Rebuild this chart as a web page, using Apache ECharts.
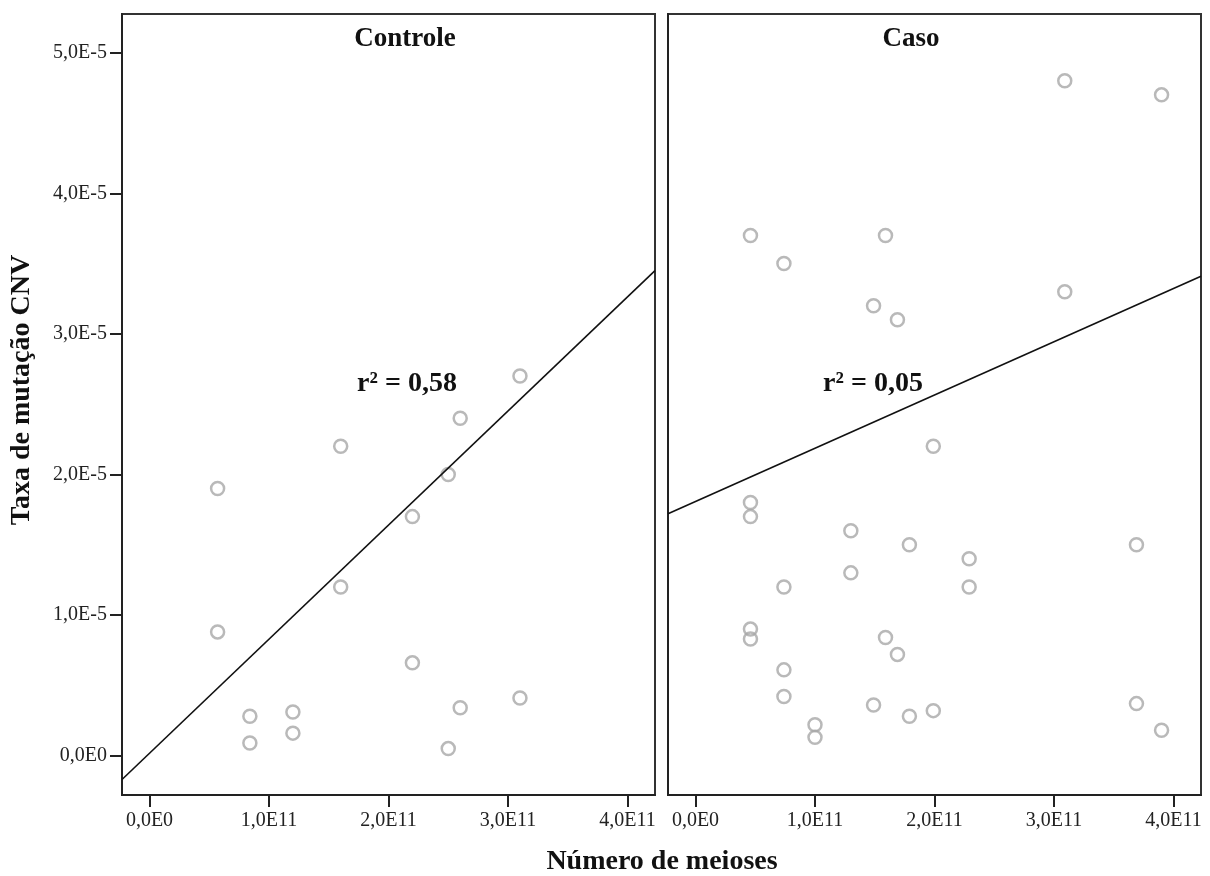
<!DOCTYPE html>
<html>
<head>
<meta charset="utf-8">
<script src="https://cdn.jsdelivr.net/npm/echarts@6/dist/echarts.min.js"></script>
<style>
  html, body { margin: 0; padding: 0; background: #fff; }
  #chart { width: 1210px; height: 876px; }
</style>
</head>
<body>
<div id="chart"></div>
<script>
// x in units of 1E11 meioses, y in units of 1E-5
const controleX = [0.57, 0.57, 0.84, 0.84, 1.2, 1.2, 1.6, 1.6, 2.2, 2.2, 2.5, 2.5, 2.6, 2.6, 3.1, 3.1];
const controleY = [1.9, 0.88, 0.28, 0.09, 0.31, 0.16, 1.2, 2.2, 1.7, 0.66, 2.0, 0.05, 2.4, 0.34, 2.7, 0.41];

const casoX = [0.46, 0.74, 1.59, 1.49, 1.69, 3.09, 3.9, 3.09, 1.99, 0.46, 0.46, 1.3, 1.79, 2.29, 2.29, 0.74,
    1.3, 3.69, 0.46, 0.46, 1.59, 1.69, 0.74, 0.74, 1.49, 1.79, 1.99, 1.0, 1.0, 3.69, 3.9];
const casoY = [3.7, 3.5, 3.7, 3.2, 3.1, 4.8, 4.7, 3.3, 2.2, 1.8, 1.7, 1.6, 1.5, 1.4, 1.2, 1.2,
    1.3, 1.5, 0.9, 0.83, 0.84, 0.72, 0.61, 0.42, 0.36, 0.28, 0.32, 0.22, 0.13, 0.37, 0.18];

// fit lines, endpoints read at the panel edges
const controleFit = [[-0.23, -0.17], [4.23, 3.45]];
const casoFit = [[-0.23, 1.72], [4.23, 3.41]];

const xTicks = [0, 1, 2, 3, 4];
const yTicks = [0, 1, 2, 3, 4, 5];
const panelTitles = ['Controle', 'Caso'];
const r2Labels = ['r\u00b2 = 0,58', 'r\u00b2 = 0,05'];

const serif = '"Liberation Serif", "Times New Roman", serif';

const fmtX = (v) => v === 0 ? '0,0E0' : v.toFixed(1).replace('.', ',') + 'E11';
const fmtY = (v) => v === 0 ? '0,0E0' : v.toFixed(1).replace('.', ',') + 'E-5';

const zip = (xs, ys) => xs.map((x, i) => [x, ys[i]]);

const chart = echarts.init(document.getElementById('chart'));

const axisLine = { show: true, onZero: false, lineStyle: { color: '#222', width: 2 } };

const makeX = (idx) => ({
    type: 'value',
    gridIndex: idx,
    min: -0.23,
    max: 4.23,
    axisLine: axisLine,
    axisTick: { show: true, customValues: xTicks, length: 12, lineStyle: { color: '#222', width: 2 } },
    axisLabel: {
        customValues: xTicks,
        formatter: fmtX,
        margin: 16,
        color: '#222',
        fontFamily: serif,
        fontSize: 20
    },
    splitLine: { show: false }
});

const makeY = (idx, showLabels) => ({
    type: 'value',
    gridIndex: idx,
    min: -0.28,
    max: 5.275,
    axisLine: axisLine,
    axisTick: { show: showLabels, customValues: yTicks, length: 12, lineStyle: { color: '#222', width: 2 } },
    axisLabel: {
        show: showLabels,
        customValues: yTicks,
        formatter: fmtY,
        margin: 15,
        color: '#222',
        fontFamily: serif,
        fontSize: 20
    },
    splitLine: { show: false }
});

const scatterStyle = {
    color: 'rgba(255,255,255,0)',
    borderColor: '#a8a8a8',
    borderWidth: 2.5
};

const option = {
    backgroundColor: '#fff',
    animation: false,
    grid: [
        { left: 122, top: 14, width: 533, height: 781, show: true, borderColor: '#333', borderWidth: 2 },
        { left: 668, top: 14, width: 533, height: 781, show: true, borderColor: '#333', borderWidth: 2 }
    ],
    xAxis: [makeX(0), makeX(1)],
    yAxis: [makeY(0, true), makeY(1, false)],
    series: [
        {
            type: 'scatter', xAxisIndex: 0, yAxisIndex: 0,
            data: zip(controleX, controleY),
            symbol: 'circle', symbolSize: 13,
            itemStyle: scatterStyle
        },
        {
            type: 'line', xAxisIndex: 0, yAxisIndex: 0,
            data: controleFit, showSymbol: false, clip: true,
            lineStyle: { color: '#111', width: 1.6 }
        },
        {
            type: 'scatter', xAxisIndex: 1, yAxisIndex: 1,
            data: zip(casoX, casoY),
            symbol: 'circle', symbolSize: 13,
            itemStyle: scatterStyle
        },
        {
            type: 'line', xAxisIndex: 1, yAxisIndex: 1,
            data: casoFit, showSymbol: false, clip: true,
            lineStyle: { color: '#111', width: 1.6 }
        }
    ],
    graphic: [
        {
            type: 'text', x: 405, y: 39,
            style: { text: panelTitles[0], font: 'bold 27px ' + serif, fill: '#111', align: 'center', verticalAlign: 'middle' }
        },
        {
            type: 'text', x: 911, y: 39,
            style: { text: panelTitles[1], font: 'bold 27px ' + serif, fill: '#111', align: 'center', verticalAlign: 'middle' }
        },
        {
            type: 'text', x: 407, y: 384,
            style: { text: r2Labels[0], font: 'bold 28px ' + serif, fill: '#111', align: 'center', verticalAlign: 'middle' }
        },
        {
            type: 'text', x: 873, y: 384,
            style: { text: r2Labels[1], font: 'bold 28px ' + serif, fill: '#111', align: 'center', verticalAlign: 'middle' }
        },
        {
            type: 'text', x: 662, y: 862,
            style: { text: 'Número de meioses', font: 'bold 28px ' + serif, fill: '#111', align: 'center', verticalAlign: 'middle' }
        },
        {
            type: 'text', x: 22, y: 390, rotation: Math.PI / 2,
            style: { text: 'Taxa de mutação CNV', font: 'bold 28px ' + serif, fill: '#111', align: 'center', verticalAlign: 'middle' }
        }
    ]
};

chart.setOption(option);
</script>
</body>
</html>
